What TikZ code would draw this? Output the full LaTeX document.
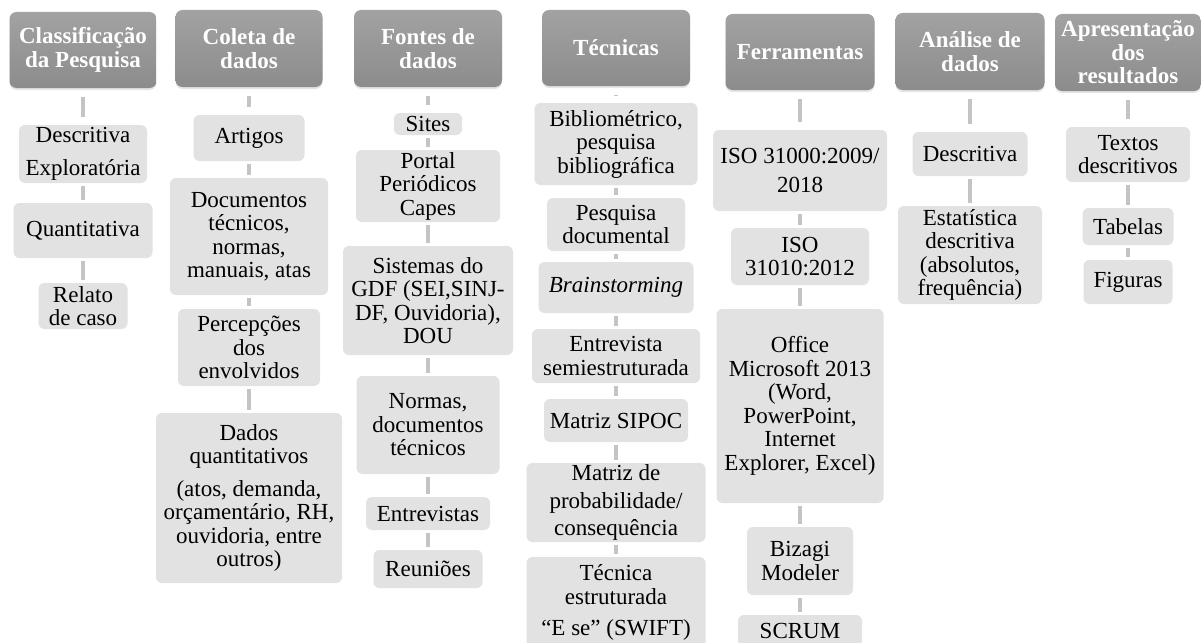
\documentclass[tikz,border=0pt]{standalone}
\usepackage{fontspec}
\setmainfont{Liberation Serif}
\usetikzlibrary{shadows}
\definecolor{boxgray}{HTML}{E2E2E2}
\definecolor{headtop}{HTML}{A2A2A2}
\definecolor{headbot}{HTML}{8C8C8C}
\definecolor{linkgray}{HTML}{C4C4C4}
\begin{document}
\begin{tikzpicture}[x=1pt, y=-1pt,
    hnode/.style = {shape = rectangle,
                    rounded corners = 7pt,
                    top color = headtop,
                    bottom color = headbot,
                    text = white,
                    inner sep = 0pt,
                    align = center,
                    font = \fontsize{23}{23.5}\selectfont\bfseries,
                    drop shadow = {opacity = 0.2, shadow xshift = 0pt, shadow yshift = -2pt}},
    cnode/.style = {shape = rectangle,
                    rounded corners = 6pt,
                    fill = boxgray,
                    inner sep = 0pt,
                    align = center,
                    font = \fontsize{23}{23.5}\selectfont},
    hlink/.style = {draw = linkgray, line width = 3.5pt, shorten <=9pt, shorten >=8pt},
    link/.style = {draw = linkgray, line width = 3.5pt, shorten <=2.5pt, shorten >=2.5pt}]
    \useasboundingbox[fill = white] (0,0) rectangle (1201,642);

    % Classificação
    \node[hnode, minimum width = 147, minimum height = 76] (h1) at (83,50) {Classificação\\da Pesquisa};
    \node[cnode, minimum width = 128, minimum height = 58] (11) at (83,154) {Descritiva\\[10pt]Exploratória};
    \node[cnode, minimum width = 139, minimum height = 55] (12) at (83,230.5) {Quantitativa};
    \node[cnode, minimum width = 89, minimum height = 46] (13) at (83,306) {Relato\\de caso};
    \path[hlink] (h1) edge (11);
    \path[link] (11) edge (12) (12) edge (13);

    % Coleta
    \node[hnode, minimum width = 147, minimum height = 77] (h2) at (249,48.5) {Coleta de\\dados};
    \node[cnode, minimum width = 111, minimum height = 46] (21) at (249,138) {Artigos};
    \node[cnode, minimum width = 158, minimum height = 117] (22) at (249,236.5) {Documentos\\técnicos,\\normas,\\manuais, atas};
    \node[cnode, minimum width = 142, minimum height = 77] (23) at (249,347.5) {Percepções\\dos\\envolvidos};
    \node[cnode, minimum width = 186, minimum height = 170] (24) at (249,498) {Dados\\quantitativos\\[9pt](atos, demanda,\\orçamentário, RH,\\ouvidoria, entre\\outros)};
    \path[hlink] (h2) edge (21);
    \path[link] (21) edge (22) (22) edge (23) (23) edge (24);

    % Fontes
    \node[hnode, minimum width = 148, minimum height = 77] (h3) at (428,48.5) {Fontes de\\dados};
    \node[cnode, minimum width = 68, minimum height = 22] (31) at (428,124) {Sites};
    \node[cnode, minimum width = 144, minimum height = 72] (32) at (428,186) {Portal\\Periódicos\\Capes};
    \node[cnode, minimum width = 170, minimum height = 109] (33) at (428,300.5) {Sistemas do\\GDF (SEI,SINJ-\\DF, Ouvidoria),\\DOU};
    \node[cnode, minimum width = 143, minimum height = 98] (34) at (428,425) {Normas,\\documentos\\técnicos};
    \node[cnode, minimum width = 124, minimum height = 33] (35) at (428,513.5) {Entrevistas};
    \node[cnode, minimum width = 109, minimum height = 38] (36) at (428,569) {Reuniões};
    \path[hlink] (h3) edge (31);
    \path[link] (31) edge (32) (32) edge (33) (33) edge (34) (34) edge (35) (35) edge (36);

    % Técnicas
    \node[hnode, minimum width = 148, minimum height = 76] (h4) at (616,48) {Técnicas};
    \node[cnode, minimum width = 163, minimum height = 82] (41) at (616,144) {Bibliométrico,\\pesquisa\\bibliográfica};
    \node[cnode, minimum width = 138, minimum height = 53] (42) at (616,224.5) {Pesquisa\\documental};
    \node[cnode, minimum width = 155, minimum height = 51] (43) at (616,287.5) {\textit{Brainstorming}};
    \node[cnode, minimum width = 168, minimum height = 54] (44) at (616,356) {Entrevista\\semiestruturada};
    \node[cnode, minimum width = 144, minimum height = 43] (45) at (616,420.5) {Matriz SIPOC};
    \node[cnode, minimum width = 179, minimum height = 79] (46) at (616,502.5) {Matriz de\\[4pt]probabilidade/\\[4pt]consequência};
    \node[cnode, minimum width = 179, minimum height = 91] (47) at (616,602.5) {Técnica\\estruturada\\[8pt]“E se” (SWIFT)};
    \path[hlink] (h4) edge (41);
    \path[link] (41) edge (42) (42) edge (43) (43) edge (44) (44) edge (45) (45) edge (46) (46) edge (47);

    % Ferramentas
    \node[hnode, minimum width = 149, minimum height = 76] (h5) at (800,52) {Ferramentas};
    \node[cnode, minimum width = 174, minimum height = 81] (51) at (800,170.5) {ISO 31000:2009/\\[6pt]2018};
    \node[cnode, minimum width = 138, minimum height = 57] (52) at (800,256.5) {ISO\\31010:2012};
    \node[cnode, minimum width = 167, minimum height = 194] (53) at (800,406) {Office\\Microsoft 2013\\(Word,\\PowerPoint,\\Internet\\Explorer, Excel)};
    \node[cnode, minimum width = 106, minimum height = 68] (54) at (800,561) {Bizagi\\Modeler};
    \node[cnode, minimum width = 124, minimum height = 32] (55) at (800,631) {SCRUM};
    \path[hlink] (h5) edge (51);
    \path[link] (51) edge (52) (52) edge (53) (53) edge (54) (54) edge (55);

    % Análise
    \node[hnode, minimum width = 149, minimum height = 77] (h6) at (970,51.5) {Análise de\\dados};
    \node[cnode, minimum width = 115, minimum height = 44] (61) at (970,154) {Descritiva};
    \node[cnode, minimum width = 144, minimum height = 98] (62) at (970,255) {Estatística\\descritiva\\(absolutos,\\frequência)};
    \path[hlink] (h6) edge (61);
    \path[link] (61) edge (62);

    % Apresentação
    \node[hnode, minimum width = 146, minimum height = 77] (h7) at (1128,52.5) {Apresentação\\dos\\resultados};
    \node[cnode, minimum width = 124, minimum height = 55] (71) at (1128,154.5) {Textos\\descritivos};
    \node[cnode, minimum width = 91, minimum height = 37] (72) at (1128,226.5) {Tabelas};
    \node[cnode, minimum width = 89, minimum height = 44] (73) at (1128,282) {Figuras};
    \path[hlink] (h7) edge (71);
    \path[link] (71) edge (72) (72) edge (73);
\end{tikzpicture}
\end{document}
